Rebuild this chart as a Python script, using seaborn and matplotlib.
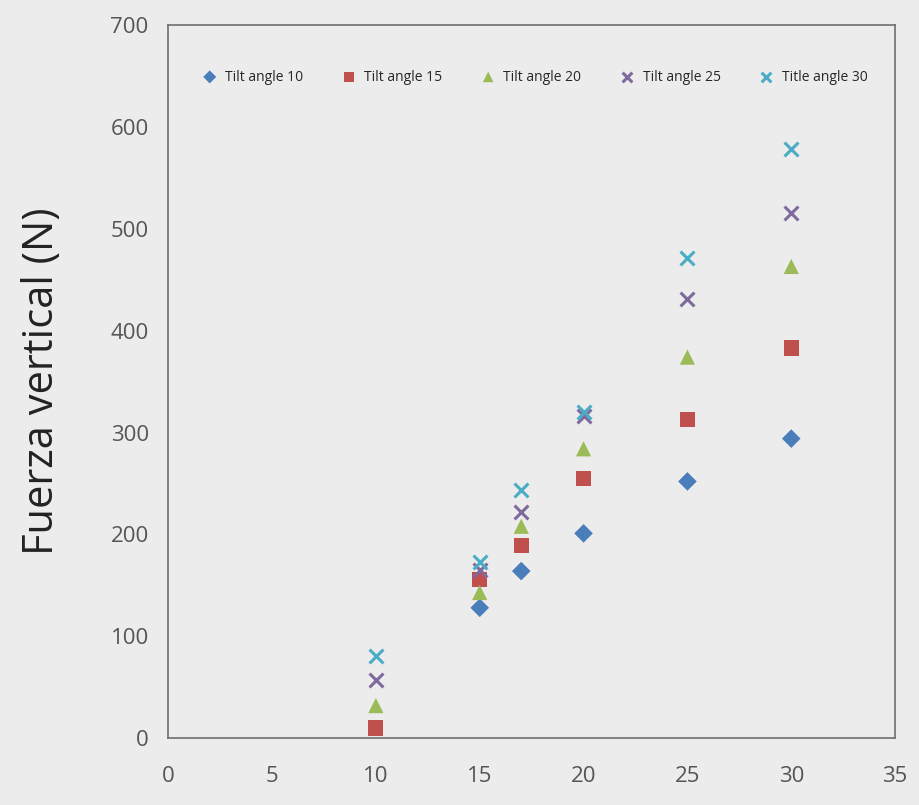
import numpy as np
import pandas as pd
import matplotlib.pyplot as plt
import seaborn as sns

# velocity (x) and vertical force per tilt angle
velocity = [10, 15, 17, 20, 25, 30]
tilt_10 = [np.nan, 128, 164, 201, 252, 294]
tilt_15 = [10, 156, 189, 255, 313, 383]
tilt_20 = [32, 143, 208, 284, 374, 463]
tilt_25 = [57, 165, 222, 316, 431, 515]
tilt_30 = [81, 173, 244, 320, 471, 578]
series_names = ["Tilt angle 10", "Tilt angle 15", "Tilt angle 20", "Tilt angle 25", "Title angle 30"]

df = pd.DataFrame({"velocity": velocity * 5,
                   "force": tilt_10 + tilt_15 + tilt_20 + tilt_25 + tilt_30,
                   "series": [s for s in series_names for _ in velocity]}).dropna()

bg = "#ececec"
sns.set_style("white")
plt.rcParams["font.family"] = ["Open Sans", "DejaVu Sans"]

palette = dict(zip(series_names, ["#4a7ebb", "#c0504d", "#9bbb59", "#7f6a9e", "#4bacc6"]))
markers = dict(zip(series_names, ["D", "s", "^", "x", "x"]))

fig = plt.figure(figsize=(9.19, 8.05), dpi=100, facecolor=bg)
ax = fig.add_axes([0.183, 0.083, 0.791, 0.886])
ax.set_facecolor(bg)

for name in series_names:
    sub = df[df["series"] == name]
    if markers[name] == "x":
        sns.scatterplot(data=sub, x="velocity", y="force", ax=ax, marker="x",
                        color=palette[name], s=100, linewidth=2.2, label=name)
    else:
        sns.scatterplot(data=sub, x="velocity", y="force", ax=ax, marker=markers[name],
                        color=palette[name], s=120 if name != "Tilt angle 10" else 90,
                        edgecolor="none", label=name)

ax.set_xlim(0, 35)
ax.set_ylim(0, 700)
ax.set_xticks(range(0, 36, 5))
ax.set_yticks(range(0, 701, 100))
ax.tick_params(axis="both", length=0, labelsize=16, labelcolor="#555555")
ax.tick_params(axis="x", pad=20)
ax.tick_params(axis="y", pad=14)
for sp in ax.spines.values():
    sp.set_color("#6e6e6e")
    sp.set_linewidth(1.2)

ax.set_xlabel("")
ax.set_ylabel("Fuerza vertical (N)", fontsize=30, color="#222222", labelpad=34)

ax.legend(loc="upper center", bbox_to_anchor=(0.5, 0.955), ncol=5, frameon=False,
          fontsize=10, handletextpad=0.1, columnspacing=2.3, markerscale=0.7)

fig.savefig("out.png", dpi=100, facecolor=bg)
plt.close()
